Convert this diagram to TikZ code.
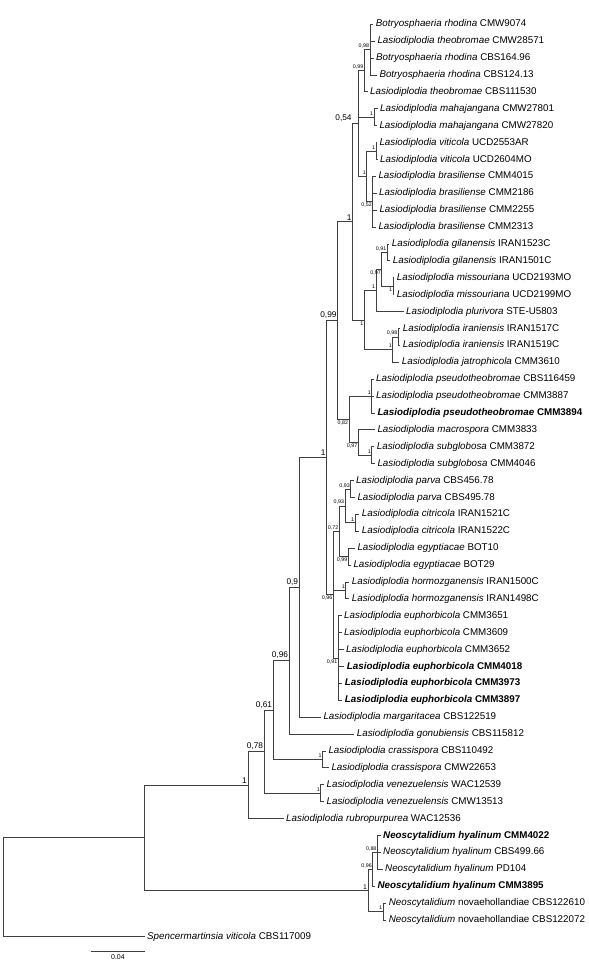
\documentclass[tikz,border=0pt]{standalone}
\usepackage{fontspec}
\setmainfont{Liberation Sans}

\newcommand{\taxon}[2]{\textit{#1} #2}
\newcommand{\btaxon}[2]{\textbf{\textit{#1} #2}}

\begin{document}
\begin{tikzpicture}[
    x=1pt, y=-1pt,
    leaf/.style={anchor=west, inner xsep=2.5pt, inner ysep=0pt, font=\fontsize{9.8}{10}\selectfont},
    br/.style={draw=black!75, line width=0.9pt},
    bsup/.style={anchor=south east, inner sep=0pt, xshift=-1pt, yshift=1.5pt, font=\fontsize{8.3}{9}\selectfont},
    ssup/.style={anchor=east, inner sep=0pt, xshift=-0.8pt, yshift=3.5pt, font=\fontsize{5.3}{6}\selectfont},
    ssupd/.style={anchor=east, inner sep=0pt, xshift=-0.8pt, yshift=-3.5pt, font=\fontsize{5.3}{6}\selectfont}
  ]
  \path[use as bounding box, fill=white] (0,0) rectangle (589,967);

  % taxa
  \node[leaf] (l1)  at (373.2,24.3)  {\taxon{Botryosphaeria rhodina}{CMW9074}};
  \node[leaf] (l2)  at (374.8,41.2)  {\taxon{Lasiodiplodia theobromae}{CMW28571}};
  \node[leaf] (l3)  at (373.5,58.1)  {\taxon{Botryosphaeria rhodina}{CBS164.96}};
  \node[leaf] (l4)  at (376.8,75.0)  {\taxon{Botryosphaeria rhodina}{CBS124.13}};
  \node[leaf] (l5)  at (367.5,91.9)  {\taxon{Lasiodiplodia theobromae}{CBS111530}};
  \node[leaf] (l6)  at (377.5,108.8) {\taxon{Lasiodiplodia mahajangana}{CMW27801}};
  \node[leaf] (l7)  at (376.8,125.7) {\taxon{Lasiodiplodia mahajangana}{CMW27820}};
  \node[leaf] (l8)  at (376.8,142.6) {\taxon{Lasiodiplodia viticola}{UCD2553AR}};
  \node[leaf] (l9)  at (377.5,159.5) {\taxon{Lasiodiplodia viticola}{UCD2604MO}};
  \node[leaf] (l10) at (375.8,176.4) {\taxon{Lasiodiplodia brasiliense}{CMM4015}};
  \node[leaf] (l11) at (376.5,193.3) {\taxon{Lasiodiplodia brasiliense}{CMM2186}};
  \node[leaf] (l12) at (376.8,210.2) {\taxon{Lasiodiplodia brasiliense}{CMM2255}};
  \node[leaf] (l13) at (375.8,227.1) {\taxon{Lasiodiplodia brasiliense}{CMM2313}};
  \node[leaf] (l14) at (389.2,244.0) {\taxon{Lasiodiplodia gilanensis}{IRAN1523C}};
  \node[leaf] (l15) at (390.2,260.9) {\taxon{Lasiodiplodia gilanensis}{IRAN1501C}};
  \node[leaf] (l16) at (394.2,277.8) {\taxon{Lasiodiplodia missouriana}{UCD2193MO}};
  \node[leaf] (l17) at (394.2,294.7) {\taxon{Lasiodiplodia missouriana}{UCD2199MO}};
  \node[leaf] (l18) at (403.5,311.6) {\taxon{Lasiodiplodia plurivora}{STE-U5803}};
  \node[leaf] (l19) at (400.2,328.5) {\taxon{Lasiodiplodia iraniensis}{IRAN1517C}};
  \node[leaf] (l20) at (400.2,345.4) {\taxon{Lasiodiplodia iraniensis}{IRAN1519C}};
  \node[leaf] (l21) at (399.2,362.3) {\taxon{Lasiodiplodia jatrophicola}{CMM3610}};
  \node[leaf] (l22) at (373.5,379.2) {\taxon{Lasiodiplodia pseudotheobromae}{CBS116459}};
  \node[leaf] (l23) at (373.5,396.1) {\taxon{Lasiodiplodia pseudotheobromae}{CMM3887}};
  \node[leaf] (l24) at (374.8,413.0) {\btaxon{Lasiodiplodia pseudotheobromae}{CMM3894}};
  \node[leaf] (l25) at (374.8,429.9) {\taxon{Lasiodiplodia macrospora}{CMM3833}};
  \node[leaf] (l26) at (374.2,446.8) {\taxon{Lasiodiplodia subglobosa}{CMM3872}};
  \node[leaf] (l27) at (374.8,463.7) {\taxon{Lasiodiplodia subglobosa}{CMM4046}};
  \node[leaf] (l28) at (353.5,480.6) {\taxon{Lasiodiplodia parva}{CBS456.78}};
  \node[leaf] (l29) at (354.8,497.5) {\taxon{Lasiodiplodia parva}{CBS495.78}};
  \node[leaf] (l30) at (359.2,514.4) {\taxon{Lasiodiplodia citricola}{IRAN1521C}};
  \node[leaf] (l31) at (359.2,531.3) {\taxon{Lasiodiplodia citricola}{IRAN1522C}};
  \node[leaf] (l32) at (354.8,548.2) {\taxon{Lasiodiplodia egyptiacae}{BOT10}};
  \node[leaf] (l33) at (350.8,565.1) {\taxon{Lasiodiplodia egyptiacae}{BOT29}};
  \node[leaf] (l34) at (349.2,582.0) {\taxon{Lasiodiplodia hormozganensis}{IRAN1500C}};
  \node[leaf] (l35) at (349.2,598.9) {\taxon{Lasiodiplodia hormozganensis}{IRAN1498C}};
  \node[leaf] (l36) at (341.5,615.8) {\taxon{Lasiodiplodia euphorbicola}{CMM3651}};
  \node[leaf] (l37) at (341.5,632.7) {\taxon{Lasiodiplodia euphorbicola}{CMM3609}};
  \node[leaf] (l38) at (343.5,649.6) {\taxon{Lasiodiplodia euphorbicola}{CMM3652}};
  \node[leaf] (l39) at (344.2,666.5) {\btaxon{Lasiodiplodia euphorbicola}{CMM4018}};
  \node[leaf] (l40) at (342.2,683.4) {\btaxon{Lasiodiplodia euphorbicola}{CMM3973}};
  \node[leaf] (l41) at (342.2,700.3) {\btaxon{Lasiodiplodia euphorbicola}{CMM3897}};
  \node[leaf] (l42) at (320.8,717.2) {\taxon{Lasiodiplodia margaritacea}{CBS122519}};
  \node[leaf] (l43) at (354.2,734.1) {\taxon{Lasiodiplodia gonubiensis}{CBS115812}};
  \node[leaf] (l44) at (325.8,751.0) {\taxon{Lasiodiplodia crassispora}{CBS110492}};
  \node[leaf] (l45) at (328.8,767.9) {\taxon{Lasiodiplodia crassispora}{CMW22653}};
  \node[leaf] (l46) at (323.9,784.8) {\taxon{Lasiodiplodia venezuelensis}{WAC12539}};
  \node[leaf] (l47) at (323.9,801.7) {\taxon{Lasiodiplodia venezuelensis}{CMW13513}};
  \node[leaf] (l48) at (283.5,818.6) {\taxon{Lasiodiplodia rubropurpurea}{WAC12536}};
  \node[leaf] (l49) at (380.5,835.5) {\btaxon{Neoscytalidium hyalinum}{CMM4022}};
  \node[leaf] (l50) at (380.5,852.4) {\taxon{Neoscytalidium hyalinum}{CBS499.66}};
  \node[leaf] (l51) at (382.5,869.3) {\taxon{Neoscytalidium hyalinum}{PD104}};
  \node[leaf] (l52) at (374.9,886.2) {\btaxon{Neoscytalidium hyalinum}{CMM3895}};
  \node[leaf] (l53) at (386.2,903.1) {\taxon{Neoscytalidium}{novaehollandiae CBS122610}};
  \node[leaf] (l54) at (386.2,920.0) {\taxon{Neoscytalidium}{novaehollandiae CBS122072}};
  \node[leaf] (l55) at (144.5,936.9) {\taxon{Spencermartinsia viticola}{CBS117009}};

  % internal nodes
  \coordinate (theo)  at (370.0,49.65);
  \coordinate (theo2) at (364.3,70.8);
  \coordinate (maha)  at (374.0,117.25);
  \coordinate (viti)  at (376.0,151.05);
  \coordinate (bras)  at (372.7,201.75);
  \coordinate (vibr)  at (366.7,176.4);
  \coordinate (c054)  at (358.3,123.6);
  \coordinate (gila)  at (387.3,252.45);
  \coordinate (miss)  at (393.0,286.25);
  \coordinate (gimi)  at (381.7,269.35);
  \coordinate (gmp)   at (376.0,290.5);
  \coordinate (iran)  at (398.3,336.95);
  \coordinate (irja)  at (392.7,349.6);
  \coordinate (e1)    at (364.3,320.05);
  \coordinate (d1)    at (352.7,221.8);
  \coordinate (pseu)  at (371.7,396.1);
  \coordinate (subg)  at (371.7,455.25);
  \coordinate (masu)  at (358.3,442.6);
  \coordinate (c082)  at (349.0,419.35);
  \coordinate (c099)  at (337.7,320.6);
  \coordinate (parv)  at (350.7,489.05);
  \coordinate (citr)  at (355.0,522.85);
  \coordinate (paci)  at (345.0,505.95);
  \coordinate (egyp)  at (348.3,556.65);
  \coordinate (c072)  at (339.3,531.3);
  \coordinate (horm)  at (345.7,590.45);
  \coordinate (euph)  at (338.3,658.05);
  \coordinate (c096s) at (333.3,594.7);
  \coordinate (big1)  at (326.7,457.65);
  \coordinate (c09)   at (299.3,587.4);
  \coordinate (c096)  at (289.3,660.75);
  \coordinate (cras)  at (322.6,759.45);
  \coordinate (c061)  at (273.3,710.1);
  \coordinate (vene)  at (320.8,793.25);
  \coordinate (c078)  at (264.3,751.7);
  \coordinate (lasi)  at (248.0,785.15);
  \coordinate (hyal2) at (377.4,852.4);
  \coordinate (hyal)  at (372.8,869.3);
  \coordinate (nova)  at (383.0,911.55);
  \coordinate (neos)  at (368.0,890.4);
  \coordinate (ingr)  at (144.5,837.8);
  \coordinate (root)  at (3.0,887.35);

  % branches
  \foreach \i in {1,...,4} \draw[br] (theo) |- (l\i.west);
  \draw[br] (theo2) |- (theo) (theo2) |- (l5.west);
  \draw[br] (maha) |- (l6.west) (maha) |- (l7.west);
  \draw[br] (viti) |- (l8.west) (viti) |- (l9.west);
  \foreach \i in {10,...,13} \draw[br] (bras) |- (l\i.west);
  \draw[br] (vibr) |- (viti) (vibr) |- (bras);
  \draw[br] (c054) |- (theo2) (c054) |- (maha) (c054) |- (vibr);
  \draw[br] (gila) |- (l14.west) (gila) |- (l15.west);
  \draw[br] (miss) |- (l16.west) (miss) |- (l17.west);
  \draw[br] (gimi) |- (gila) (gimi) |- (miss);
  \draw[br] (gmp) |- (gimi) (gmp) |- (l18.west);
  \draw[br] (iran) |- (l19.west) (iran) |- (l20.west);
  \draw[br] (irja) |- (iran) (irja) |- (l21.west);
  \draw[br] (e1) |- (gmp) (e1) |- (irja);
  \draw[br] (d1) |- (c054) (d1) |- (e1);
  \foreach \i in {22,...,24} \draw[br] (pseu) |- (l\i.west);
  \draw[br] (subg) |- (l26.west) (subg) |- (l27.west);
  \draw[br] (masu) |- (l25.west) (masu) |- (subg);
  \draw[br] (c082) |- (pseu) (c082) |- (masu);
  \draw[br] (c099) |- (d1) (c099) |- (c082);
  \draw[br] (parv) |- (l28.west) (parv) |- (l29.west);
  \draw[br] (citr) |- (l30.west) (citr) |- (l31.west);
  \draw[br] (paci) |- (parv) (paci) |- (citr);
  \draw[br] (egyp) |- (l32.west) (egyp) |- (l33.west);
  \draw[br] (c072) |- (paci) (c072) |- (egyp);
  \draw[br] (horm) |- (l34.west) (horm) |- (l35.west);
  \foreach \i in {36,...,41} \draw[br] (euph) |- (l\i.west);
  \draw[br] (c096s) |- (c072) (c096s) |- (horm) (c096s) |- (euph);
  \draw[br] (big1) |- (c099) (big1) |- (c096s);
  \draw[br] (c09) |- (big1) (c09) |- (l42.west);
  \draw[br] (c096) |- (c09) (c096) |- (l43.west);
  \draw[br] (cras) |- (l44.west) (cras) |- (l45.west);
  \draw[br] (c061) |- (c096) (c061) |- (cras);
  \draw[br] (vene) |- (l46.west) (vene) |- (l47.west);
  \draw[br] (c078) |- (c061) (c078) |- (vene);
  \draw[br] (lasi) |- (c078) (lasi) |- (l48.west);
  \foreach \i in {49,...,51} \draw[br] (hyal2) |- (l\i.west);
  \draw[br] (hyal) |- (hyal2) (hyal) |- (l52.west);
  \draw[br] (nova) |- (l53.west) (nova) |- (l54.west);
  \draw[br] (neos) |- (hyal) (neos) |- (nova);
  \draw[br] (ingr) |- (lasi) (ingr) |- (neos);
  \draw[br] (root) |- (ingr) (root) |- (l55.west);

  % support values
  \node[bsup, xshift=-5.5pt] (s-c054) at (c054) {0,54};
  \node[bsup] (s-d1)   at (d1)   {1};
  \node[bsup] (s-c099) at (c099) {0,99};
  \node[bsup] (s-big1) at (big1) {1};
  \node[bsup] (s-c09)  at (c09)  {0,9};
  \node[bsup] (s-c096) at (c096) {0,96};
  \node[bsup] (s-c061) at (c061) {0,61};
  \node[bsup] (s-c078) at (c078) {0,78};
  \node[bsup] (s-lasi) at (lasi) {1};
  \node[ssup] (s-theo)  at (theo)  {0,98};
  \node[ssup] (s-theo2) at (theo2) {0,99};
  \node[ssup] (s-maha)  at (maha)  {1};
  \node[ssup] (s-viti)  at (viti)  {1};
  \node[ssupd] (s-bras) at (bras)  {0,52};
  \node[ssup] (s-vibr)  at (vibr)  {1};
  \node[ssup] (s-gila)  at (gila)  {0,91};
  \node[ssupd] (s-miss) at (miss)  {1};
  \node[ssupd] (s-gimi) at (gimi)  {0,97};
  \node[ssup] (s-gmp)   at (gmp)   {1};
  \node[ssup] (s-iran)  at (iran)  {0,98};
  \node[ssup] (s-irja)  at (irja)  {1};
  \node[ssupd] (s-e1)   at (e1)    {1};
  \node[ssup] (s-pseu)  at (pseu)  {1};
  \node[ssup] (s-subg)  at (subg)  {1};
  \node[ssupd] (s-masu) at (masu)  {0,97};
  \node[ssupd] (s-c082) at (c082)  {0,82};
  \node[ssup] (s-parv)  at (parv)  {0,93};
  \node[ssup] (s-paci)  at (paci)  {0,93};
  \node[ssup] (s-citr)  at (citr)  {1};
  \node[ssupd] (s-egyp) at (egyp)  {0,99};
  \node[ssup] (s-c072)  at (c072)  {0,72};
  \node[ssup] (s-horm)  at (horm)  {1};
  \node[ssupd] (s-c096s) at (c096s) {0,96};
  \node[ssupd] (s-euph) at (euph)  {0,91};
  \node[ssup] (s-cras)  at (cras)  {1};
  \node[ssup] (s-vene)  at (vene)  {1};
  \node[ssup] (s-hyal2) at (hyal2) {0,88};
  \node[ssup] (s-hyal)  at (hyal)  {0,96};
  \node[ssup, font=\fontsize{6.8}{7}\selectfont] (s-neos) at (neos) {1};
  \node[ssup] (s-nova)  at (nova)  {1};

  % scale bar
  \coordinate (sb1) at (90.6,951.7);
  \coordinate (sb2) at (145.3,951.7);
  \draw[br] (sb1) -- node[below=2pt, inner sep=0pt, font=\fontsize{7}{8}\selectfont] (sb-lab) {0.04} (sb2);
\end{tikzpicture}
\end{document}
